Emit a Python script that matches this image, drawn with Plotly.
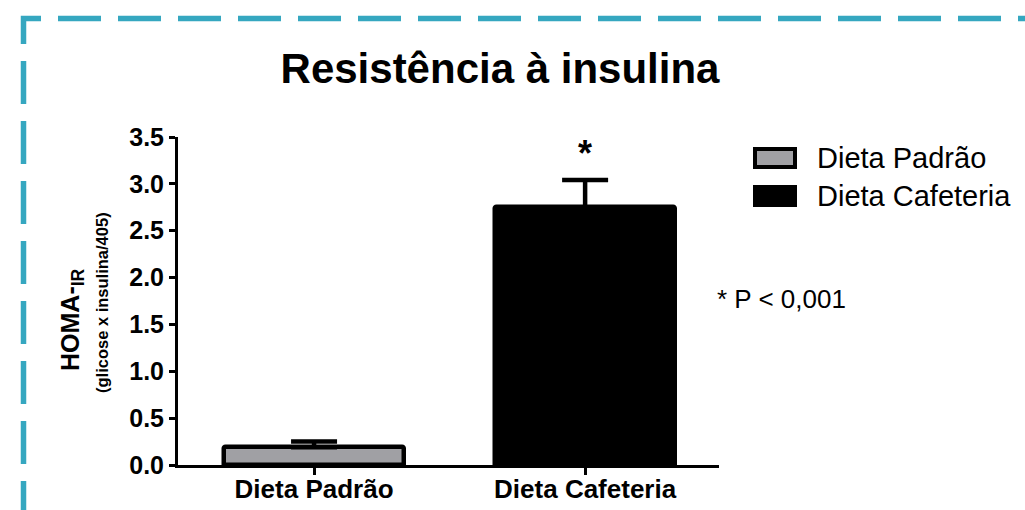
import plotly.graph_objects as go

# HOMA-IR by diet group (mean and upper SEM)
groups = ["Dieta Padrão", "Dieta Cafeteria"]
homa_mean = [0.19, 2.75]
homa_sem = [0.06, 0.29]
bar_colors = ["#a0a0a4", "#000000"]
y_ticks = [0.0, 0.5, 1.0, 1.5, 2.0, 2.5, 3.0, 3.5]

W, H = 1025, 510
ML, MR, MT, MB = 178, 306, 137, 45
PW, PH = W - ML - MR, H - MT - MB
FONT = "Liberation Sans, Arial, Helvetica, sans-serif"


def px_x(px):
    return (px - ML) / PW


def px_y(py):
    return 1 - (py - MT) / PH


fig = go.Figure()
fig.add_trace(go.Bar(
    x=groups,
    y=homa_mean,
    width=0.665,
    marker=dict(color=bar_colors, line=dict(color="#000000", width=4.5), cornerradius=2),
    error_y=dict(type="data", symmetric=False, array=homa_sem, arrayminus=[0, 0],
                 color="#000000", thickness=4.5, width=23),
    showlegend=False,
))

# significance mark above the cafeteria bar
fig.add_annotation(x=groups[1], y=homa_mean[1] + homa_sem[1], xref="x", yref="y",
                   text="<b>*</b>", showarrow=False, yanchor="bottom", yshift=4,
                   font=dict(family=FONT, size=36, color="#000000"))

# y-axis title (two lines)
fig.add_annotation(x=px_x(72), y=px_y(320), xref="paper", yref="paper", textangle=-90,
                   text="<b>HOMA-<sub>IR</sub></b>", showarrow=False,
                   xanchor="center", yanchor="middle",
                   font=dict(family=FONT, size=25, color="#000000"))
fig.add_annotation(x=px_x(102), y=px_y(303), xref="paper", yref="paper", textangle=-90,
                   text="<b>(glicose x insulina/405)</b>", showarrow=False,
                   xanchor="center", yanchor="middle",
                   font=dict(family=FONT, size=16.5, color="#000000"))

# legend boxes and labels
legend_rows = [(158, bar_colors[0]), (196, bar_colors[1])]
for (cy, col), name in zip(legend_rows, groups):
    fig.add_shape(type="rect", xref="paper", yref="paper",
                  x0=px_x(755), x1=px_x(795), y0=px_y(cy - 9), y1=px_y(cy + 9),
                  fillcolor=col, line=dict(color="#000000", width=4))
    fig.add_annotation(x=px_x(815), y=px_y(cy), xref="paper", yref="paper",
                       text=name, showarrow=False, xanchor="left", yanchor="middle",
                       font=dict(family=FONT, size=29, color="#000000"))

fig.add_annotation(x=px_x(715), y=px_y(299), xref="paper", yref="paper",
                   text="* P < 0,001", showarrow=False, xanchor="left", yanchor="middle",
                   font=dict(family=FONT, size=26, color="#000000"))

# dashed frame (left and top edges)
frame_path = "M {:.5f},{:.5f} V {:.5f} H {:.5f}".format(px_x(23.5), px_y(524), px_y(18.5), px_x(1100))
fig.add_shape(type="path", xref="paper", yref="paper", path=frame_path,
              line=dict(color="#35a7c0", width=5.5, dash="43px,17px"))

fig.update_layout(
    width=W, height=H,
    margin=dict(l=ML, r=MR, t=MT, b=MB, autoexpand=False),
    paper_bgcolor="#ffffff", plot_bgcolor="#ffffff",
    title=dict(text="<b>Resistência à insulina</b>", x=500 / W, xanchor="center",
               y=1 - 68 / H, yanchor="middle", xref="container", yref="container",
               font=dict(family=FONT, size=42, color="#000000")),
    bargap=0,
    font=dict(family=FONT, color="#000000"),
)
fig.update_xaxes(
    type="category", range=[-0.502, 1.494], automargin=False,
    showline=True, linecolor="#000000", linewidth=3,
    ticks="outside", ticklen=7, tickwidth=3, tickcolor="#000000",
    ticklabelstandoff=-8,
    tickfont=dict(family=FONT, size=26, color="#000000", weight="bold"),
    showgrid=False, zeroline=False,
)
fig.update_yaxes(
    range=[0, 3.5], tickvals=y_ticks, tickformat=".1f", automargin=False,
    showline=True, linecolor="#000000", linewidth=3,
    ticks="outside", ticklen=6, tickwidth=3, tickcolor="#000000",
    tickfont=dict(family=FONT, size=25, color="#000000", weight="bold"),
    showgrid=False, zeroline=False,
)

fig.write_html("out.html")
